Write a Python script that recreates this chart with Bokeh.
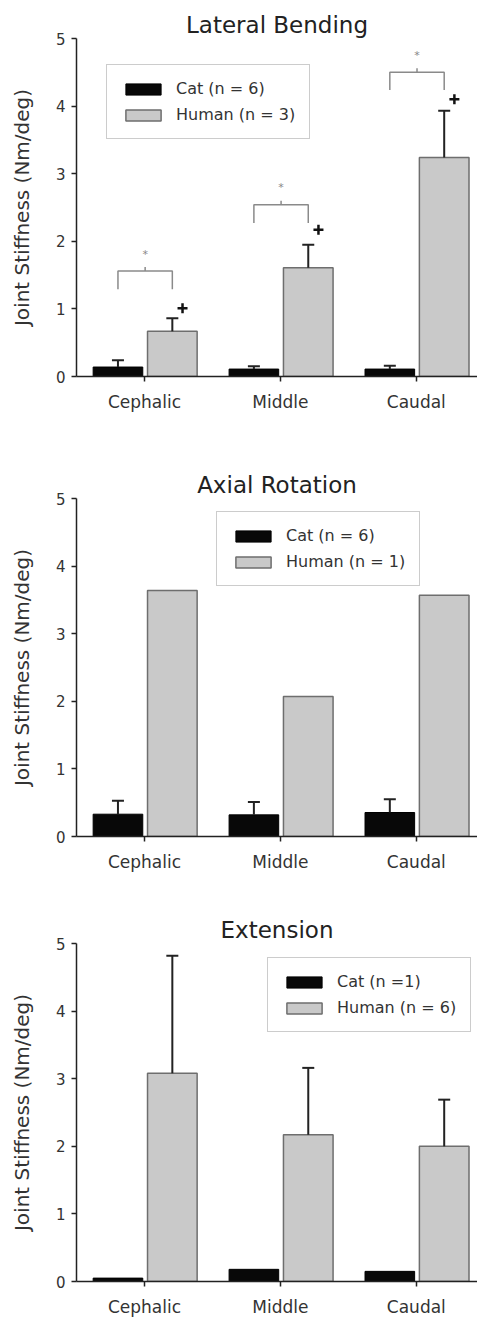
from bokeh.plotting import figure
from bokeh.layouts import column
from bokeh.models import (Range1d, FixedTicker, Whisker, TeeHead, ColumnDataSource,
                          Legend, LegendItem)
from bokeh.core.properties import value
from bokeh.embed import file_html
from bokeh.resources import INLINE

categories = ["Cephalic", "Middle", "Caudal"]
y_ticks = [0, 1, 2, 3, 4, 5]

# Lateral Bending
lb_cat = [0.14, 0.11, 0.11]
lb_cat_err = [0.10, 0.04, 0.05]
lb_human = [0.67, 1.61, 3.24]
lb_human_err = [0.19, 0.34, 0.69]
lb_bracket_top = [1.56, 2.54, 4.50]
lb_bracket_leg = [1.29, 2.27, 4.24]
lb_star_y = [1.80, 2.80, 4.75]
lb_plus_y = [1.01, 2.17, 4.10]
lb_labels = ["Cat (n = 6)", "Human (n = 3)"]

# Axial Rotation
ar_cat = [0.33, 0.32, 0.355]
ar_cat_err = [0.20, 0.19, 0.195]
ar_human = [3.64, 2.07, 3.57]
ar_labels = ["Cat (n = 6)", "Human (n = 1)"]

# Extension
ex_cat = [0.05, 0.18, 0.15]
ex_human = [3.08, 2.17, 2.00]
ex_human_err = [1.74, 0.99, 0.69]
ex_labels = ["Cat (n =1)", "Human (n = 6)"]

FONT = "DejaVu Sans"
CAT_OFF, HUM_OFF, BAR_W = -0.195, 0.205, 0.365


def make_panel(title, cat, cat_err, human, human_err, labels, leg_loc,
               height, b_top, b_bottom):
    idx = list(range(len(categories)))
    p = figure(width=477, height=height, output_backend="svg", toolbar_location=None,
               x_range=Range1d(-0.5, 2.45), y_range=Range1d(0, 5),
               min_border_left=76, min_border_right=0,
               min_border_top=b_top, min_border_bottom=b_bottom)
    p.title.text = title
    p.title.align = "center"
    p.title.text_font = FONT
    p.title.text_font_size = "23px"
    p.title.text_font_style = "normal"
    p.title.text_color = "#222222"
    p.title.standoff = 2
    p.outline_line_color = None
    p.xgrid.visible = False
    p.ygrid.visible = False
    p.background_fill_color = "white"
    p.border_fill_color = "white"

    cx = [i + CAT_OFF for i in idx]
    hx = [i + HUM_OFF for i in idx]
    r_cat = p.vbar(x=cx, top=cat, bottom=0, width=BAR_W, fill_color="#080808",
                   line_color="#000000", line_width=1)
    r_hum = p.vbar(x=hx, top=human, bottom=0, width=BAR_W, fill_color="#c9c9c9",
                   line_color="#6e6e6e", line_width=1.5)

    for xs, vals, errs in ((cx, cat, cat_err), (hx, human, human_err)):
        if errs is None:
            continue
        src = ColumnDataSource(dict(x=xs, lower=vals,
                                    upper=[v + e for v, e in zip(vals, errs)]))
        w = Whisker(source=src, base="x", lower="lower", upper="upper",
                    line_color="#222222", line_width=2, lower_head=None,
                    upper_head=TeeHead(size=12, line_color="#222222", line_width=2),
                    level="overlay")
        p.add_layout(w)

    legend = Legend(items=[LegendItem(label=labels[0], renderers=[r_cat]),
                           LegendItem(label=labels[1], renderers=[r_hum])],
                    location=leg_loc, margin=0, padding=14,
                    glyph_width=44, glyph_height=14, label_height=16, spacing=7,
                    label_standoff=11, label_text_font=FONT,
                    label_text_font_size="16px", label_text_color="#333333",
                    border_line_color="#999999", border_line_width=1.5,
                    background_fill_color="white", background_fill_alpha=1.0)
    p.add_layout(legend)

    p.yaxis.ticker = FixedTicker(ticks=y_ticks)
    p.yaxis.minor_tick_line_color = None
    p.yaxis.major_tick_out = 5
    p.yaxis.major_tick_in = 0
    p.yaxis.major_label_standoff = 6
    p.yaxis.major_label_text_font = FONT
    p.yaxis.major_label_text_font_size = "15px"
    p.yaxis.major_label_text_color = "#333333"
    p.yaxis.axis_label = "Joint Stiffness (Nm/deg)"
    p.yaxis.axis_label_text_font = FONT
    p.yaxis.axis_label_text_font_size = "20px"
    p.yaxis.axis_label_text_font_style = "normal"
    p.yaxis.axis_label_text_color = "#333333"
    p.yaxis.axis_label_standoff = 19

    p.xaxis.ticker = FixedTicker(ticks=idx)
    p.xaxis.major_label_overrides = {i: c for i, c in zip(idx, categories)}
    p.xaxis.minor_tick_line_color = None
    p.xaxis.major_tick_out = 5
    p.xaxis.major_tick_in = 0
    p.xaxis.major_label_standoff = 10
    p.xaxis.major_label_text_font = FONT
    p.xaxis.major_label_text_font_size = "17px"
    p.xaxis.major_label_text_color = "#333333"

    for ax in (p.xaxis, p.yaxis):
        ax.axis_line_color = "#222222"
        ax.axis_line_width = 1.5
        ax.major_tick_line_color = "#222222"
        ax.major_tick_line_width = 1.5
    return p, cx, hx


p1, cx1, hx1 = make_panel("Lateral Bending", lb_cat, lb_cat_err, lb_human, lb_human_err,
                          lb_labels, (30, 237), 440, 38, 64)
# significance brackets
mid1 = [(a + b) / 2 for a, b in zip(cx1, hx1)]
p1.multi_line(xs=[[a, a, b, b] for a, b in zip(cx1, hx1)],
              ys=[[l, t, t, l] for t, l in zip(lb_bracket_top, lb_bracket_leg)],
              line_color="#8a8a8a", line_width=1.5)
p1.segment(x0=mid1, y0=lb_bracket_top, x1=mid1, y1=[t + 0.06 for t in lb_bracket_top],
           line_color="#8a8a8a", line_width=1.5)
p1.text(x=mid1, y=lb_star_y, text=["*"] * 3,
        text_font=value(FONT), text_font_size="11px", text_color="#888888",
        text_align="center", text_baseline="middle")
p1.scatter(x=[h + 0.075 for h in hx1], y=lb_plus_y, marker="cross", size=10,
           line_color="#111111", line_width=2.5)

p2, _, _ = make_panel("Axial Rotation", ar_cat, ar_cat_err, ar_human, None,
                      ar_labels, (140, 250), 440, 58, 44)
p3, _, _ = make_panel("Extension", ex_cat, None, ex_human, ex_human_err,
                      ex_labels, (191, 249), 439, 63, 38)

layout = column(p1, p2, p3, spacing=0)
open("out.html", "w").write(file_html(layout, INLINE))
